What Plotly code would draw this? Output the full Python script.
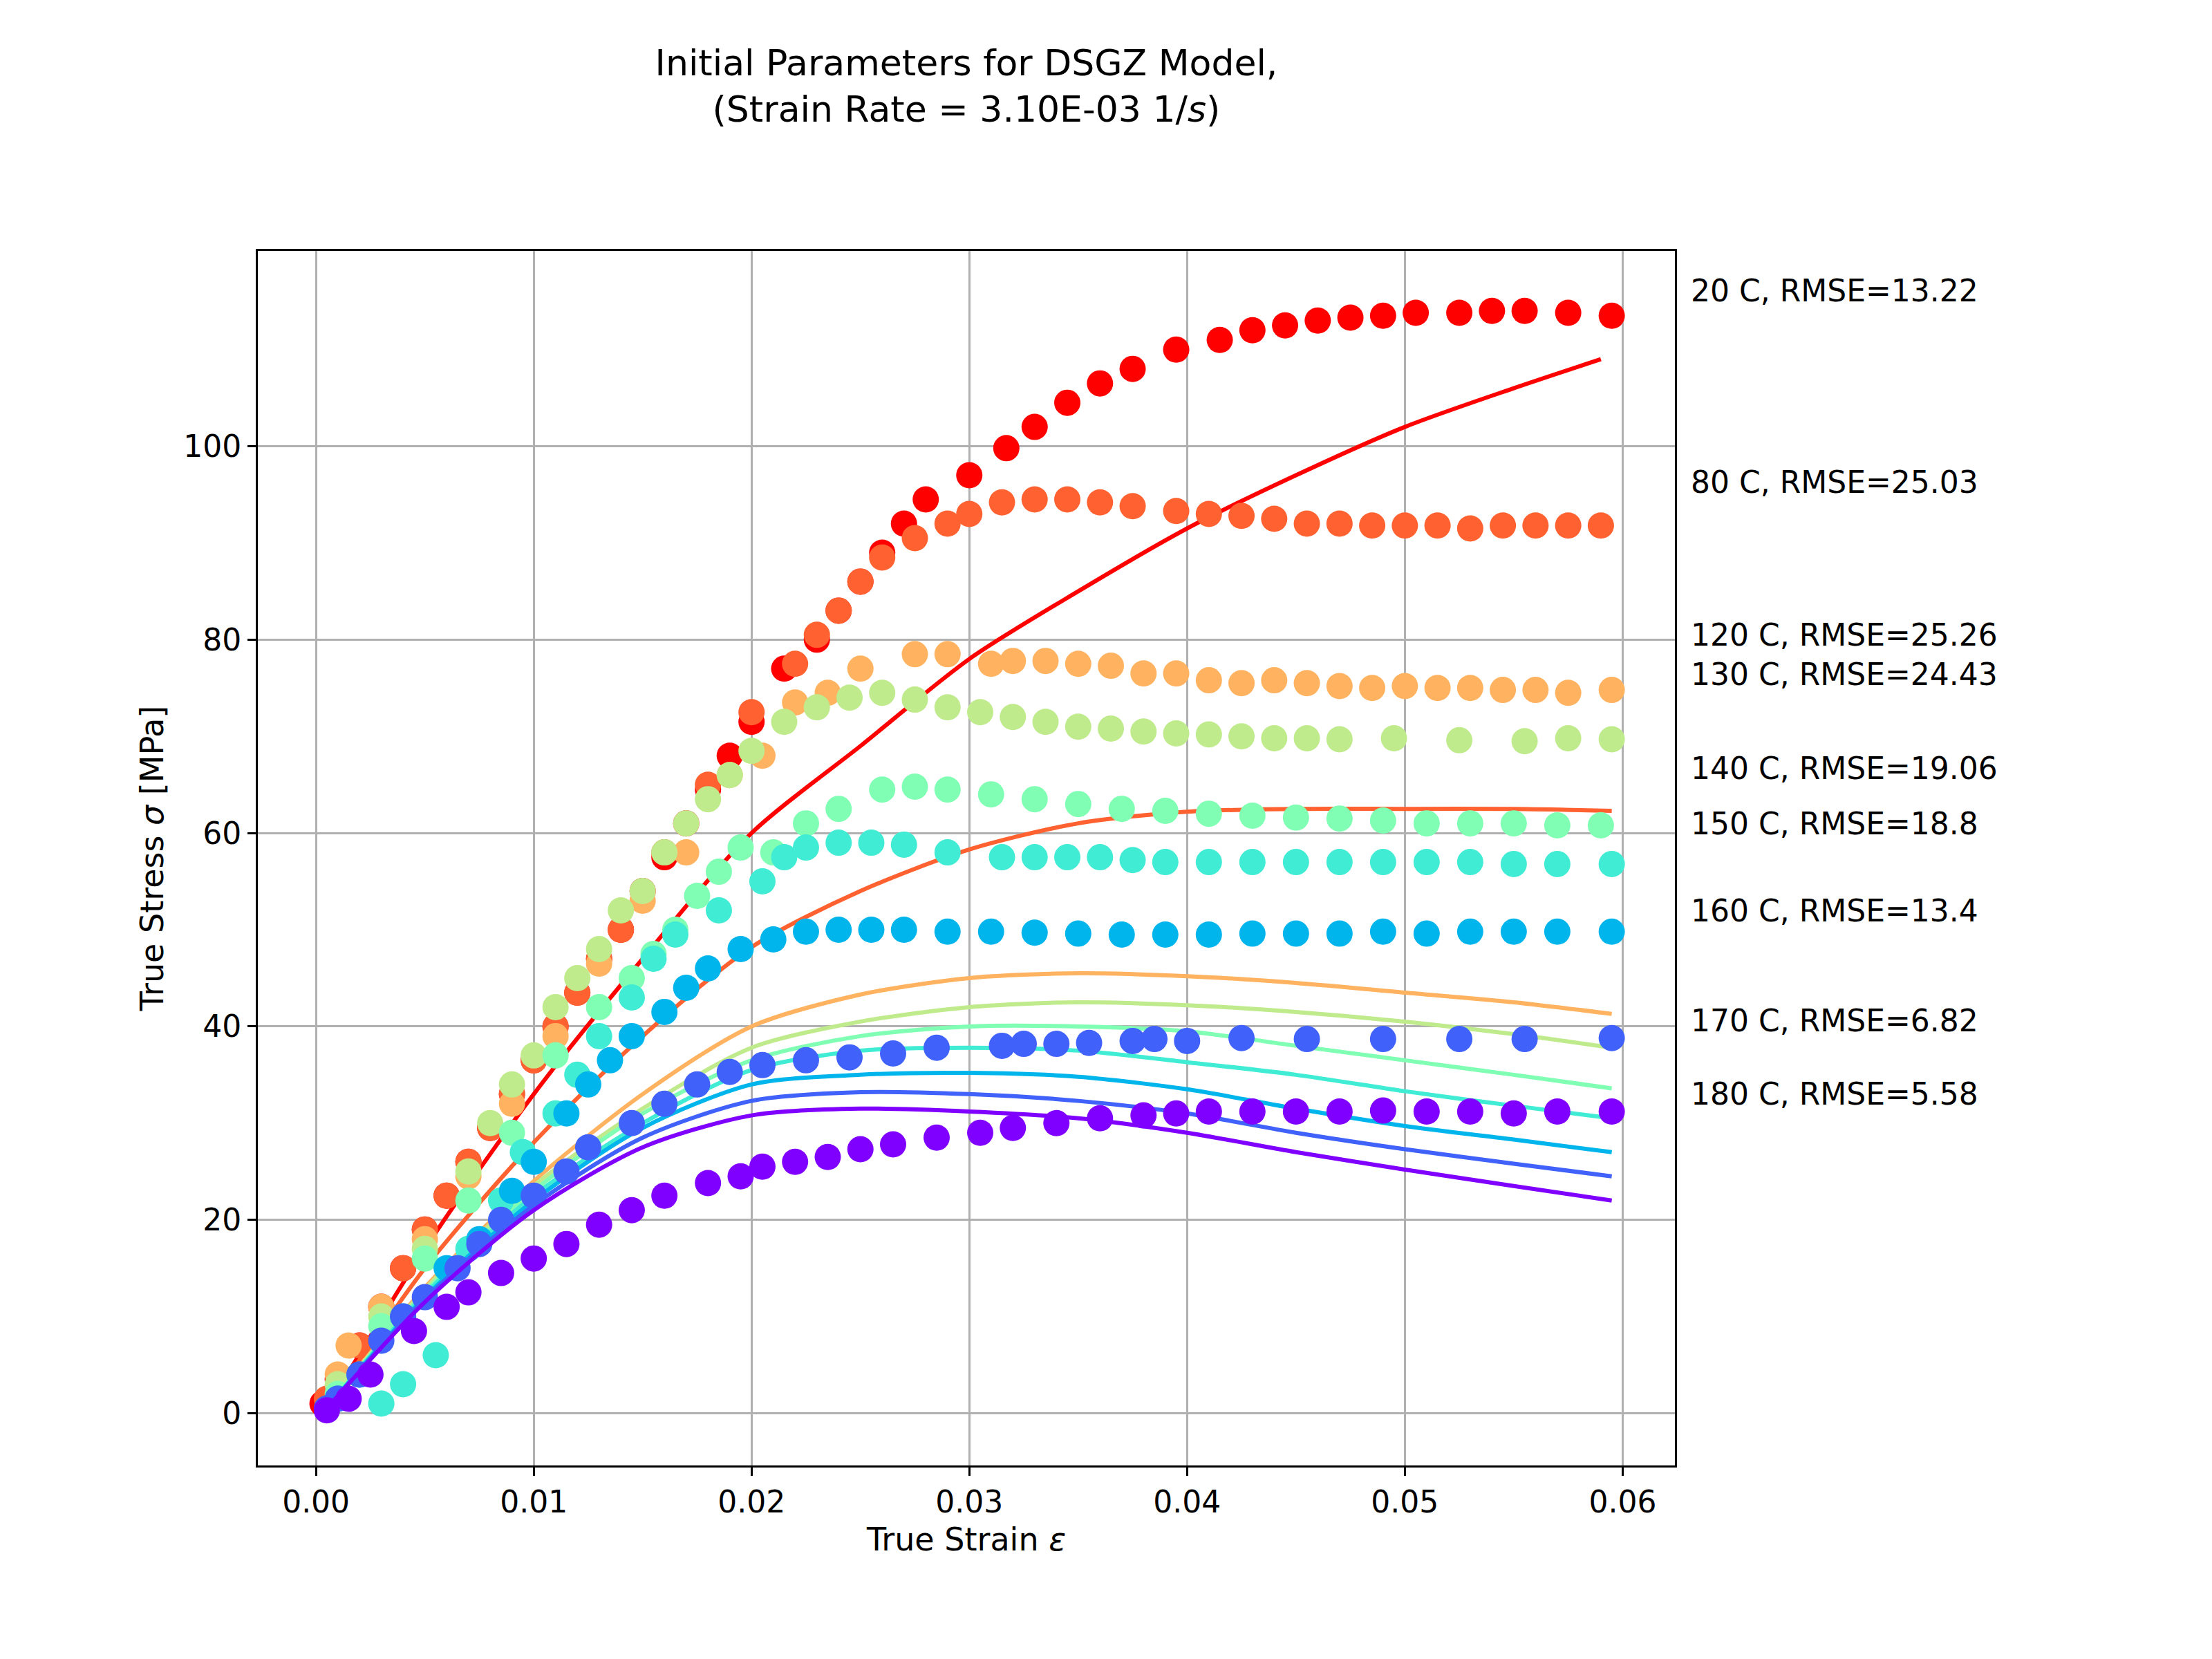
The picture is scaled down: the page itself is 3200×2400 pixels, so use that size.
import plotly.graph_objects as go

temps = ["20 C", "80 C", "120 C", "130 C", "140 C", "150 C", "160 C", "170 C", "180 C"]
rmse = ["13.22", "25.03", "25.26", "24.43", "19.06", "18.8", "13.4", "6.82", "5.58"]
colors = ["#ff0000", "#ff6230", "#ffb360", "#c0eb8d", "#80ffb4", "#40ecd4", "#00b5eb", "#4062fa", "#8000ff"]
label_y = [116.1, 96.3, 80.5, 76.4, 66.7, 61.0, 52.0, 40.6, 33.0]

# experimental points
exp_x = [
    [0.0003, 0.001, 0.002, 0.003, 0.004, 0.005, 0.006, 0.007, 0.008, 0.009, 0.010, 0.011, 0.012, 0.013, 0.014, 0.015,
     0.016, 0.017, 0.018, 0.019, 0.020, 0.0215, 0.023, 0.024, 0.025, 0.026, 0.027, 0.028, 0.030, 0.0317, 0.033, 0.0345,
     0.036, 0.0375, 0.0395, 0.0415, 0.043, 0.0445, 0.046, 0.0475, 0.049, 0.0505, 0.0525, 0.054, 0.0555, 0.0575, 0.0595],
    [0.0005, 0.002, 0.003, 0.004, 0.005, 0.006, 0.007, 0.008, 0.009, 0.010, 0.011, 0.012, 0.013, 0.014, 0.016, 0.018,
     0.020, 0.022, 0.023, 0.024, 0.025, 0.026, 0.0275, 0.029, 0.030, 0.0315, 0.033, 0.0345, 0.036, 0.0375, 0.0395, 0.041,
     0.0425, 0.044, 0.0455, 0.047, 0.0485, 0.050, 0.0515, 0.053, 0.0545, 0.056, 0.0575, 0.059],
    [0.001, 0.0015, 0.003, 0.005, 0.007, 0.009, 0.011, 0.013, 0.015, 0.017, 0.019, 0.0205, 0.022, 0.0235, 0.025, 0.0275,
     0.029, 0.031, 0.032, 0.0335, 0.035, 0.0365, 0.038, 0.0395, 0.041, 0.0425, 0.044, 0.0455, 0.047, 0.0485, 0.050,
     0.0515, 0.053, 0.0545, 0.056, 0.0575, 0.0595],
    [0.001, 0.003, 0.005, 0.007, 0.008, 0.009, 0.010, 0.011, 0.012, 0.013, 0.014, 0.015, 0.016, 0.017, 0.018, 0.019,
     0.020, 0.0215, 0.023, 0.0245, 0.026, 0.0275, 0.029, 0.0305, 0.032, 0.0335, 0.035, 0.0365, 0.038, 0.0395, 0.041,
     0.0425, 0.044, 0.0455, 0.047, 0.0495, 0.0525, 0.0555, 0.0575, 0.0595],
    [0.001, 0.003, 0.005, 0.007, 0.009, 0.011, 0.013, 0.0145, 0.0155, 0.0165, 0.0175, 0.0185, 0.0195, 0.021, 0.0225,
     0.024, 0.026, 0.0275, 0.029, 0.031, 0.033, 0.035, 0.037, 0.039, 0.041, 0.043, 0.045, 0.047, 0.049, 0.051, 0.053,
     0.055, 0.057, 0.059],
    [0.003, 0.004, 0.0055, 0.007, 0.0085, 0.0095, 0.011, 0.012, 0.013, 0.0145, 0.0155, 0.0165, 0.0185, 0.0205, 0.0215,
     0.0225, 0.024, 0.0255, 0.027, 0.029, 0.0315, 0.033, 0.0345, 0.036, 0.0375, 0.039, 0.041, 0.043, 0.045, 0.047,
     0.049, 0.051, 0.053, 0.055, 0.057, 0.0595],
    [0.001, 0.002, 0.004, 0.006, 0.0075, 0.009, 0.010, 0.0115, 0.0125, 0.0135, 0.0145, 0.016, 0.017, 0.018, 0.0195,
     0.021, 0.0225, 0.024, 0.0255, 0.027, 0.029, 0.031, 0.033, 0.035, 0.037, 0.039, 0.041, 0.043, 0.045, 0.047, 0.049,
     0.051, 0.053, 0.055, 0.057, 0.0595],
    [0.0005, 0.001, 0.002, 0.003, 0.004, 0.005, 0.0065, 0.0075, 0.0085, 0.010, 0.0115, 0.0125, 0.0145, 0.016, 0.0175,
     0.019, 0.0205, 0.0225, 0.0245, 0.0265, 0.0285, 0.0315, 0.0325, 0.034, 0.0355, 0.0375, 0.0385, 0.040, 0.0425,
     0.0455, 0.049, 0.0525, 0.0555, 0.0595],
    [0.0005, 0.0015, 0.0025, 0.0045, 0.006, 0.007, 0.0085, 0.010, 0.0115, 0.013, 0.0145, 0.016, 0.018, 0.0195, 0.0205,
     0.022, 0.0235, 0.025, 0.0265, 0.0285, 0.0305, 0.032, 0.034, 0.036, 0.038, 0.0395, 0.041, 0.043, 0.045, 0.047,
     0.049, 0.051, 0.053, 0.055, 0.057, 0.0595],
]
exp_y = [
    [1, 3.5, 7, 11, 15, 19, 22.5, 26, 29.5, 33, 36.5, 40, 43.5, 47, 50, 54, 57.5, 61, 64.5, 68, 71.5, 77, 80, 83, 86,
     89, 92, 94.5, 97, 99.8, 102, 104.5, 106.5, 108, 110, 111, 112, 112.5, 113, 113.3, 113.5, 113.8, 113.8, 114, 114,
     113.8, 113.5],
    [1.5, 7, 11, 15, 19, 22.5, 26, 29.5, 33, 36.5, 40, 43.5, 47, 50, 58, 65, 72.5, 77.5, 80.5, 83, 86, 88.5, 90.5, 92,
     93, 94.2, 94.5, 94.5, 94.2, 93.8, 93.3, 93, 92.8, 92.5, 92, 92, 91.8, 91.8, 91.8, 91.5, 91.8, 91.8, 91.8, 91.8],
    [4, 7, 11, 18, 24.5, 32, 39, 46.5, 53, 58, 66, 68, 73.5, 74.5, 77, 78.5, 78.5, 77.5, 77.8, 77.8, 77.5, 77.3, 76.5,
     76.5, 75.8, 75.5, 75.8, 75.5, 75.2, 75, 75.2, 75, 75, 74.8, 74.8, 74.5, 74.8],
    [3, 10, 17, 25, 30, 34, 37, 42, 45, 48, 52, 54, 58, 61, 63.5, 66, 68.5, 71.5, 73, 74, 74.5, 73.8, 73, 72.5, 72,
     71.5, 71, 70.8, 70.5, 70.3, 70.2, 70, 69.8, 69.8, 69.7, 69.8, 69.6, 69.5, 69.8, 69.7],
    [2, 9, 16, 22, 29, 37, 42, 45, 47.5, 50, 53.5, 56, 58.5, 58, 61, 62.5, 64.5, 64.8, 64.5, 64, 63.5, 63, 62.5, 62.3,
     62, 61.8, 61.6, 61.5, 61.3, 61, 61, 61, 60.8, 60.8],
    [1, 3, 6, 17, 22, 27, 31, 35, 39, 43, 47, 49.5, 52, 55, 57.5, 58.5, 59, 59, 58.8, 58, 57.5, 57.5, 57.5, 57.5, 57.2,
     57, 57, 57, 57, 57, 57, 57, 57, 56.8, 56.8, 56.8],
    [1.5, 4, 10, 15, 18, 23, 26, 31, 34, 36.5, 39, 41.5, 44, 46, 48, 49, 49.8, 50, 50, 50, 49.8, 49.8, 49.7, 49.6, 49.5,
     49.5, 49.5, 49.6, 49.6, 49.6, 49.8, 49.6, 49.8, 49.8, 49.8, 49.8],
    [0.5, 1.5, 4, 7.5, 10, 12, 15, 17.5, 20, 22.5, 25, 27.5, 30, 32, 34, 35.3, 36, 36.5, 36.8, 37.2, 37.8, 38, 38.2,
     38.2, 38.3, 38.5, 38.7, 38.5, 38.8, 38.7, 38.7, 38.7, 38.7, 38.8],
    [0.3, 1.5, 4, 8.5, 11, 12.5, 14.5, 16, 17.5, 19.5, 21, 22.5, 23.8, 24.5, 25.5, 26, 26.5, 27.3, 27.8, 28.5, 29, 29.5,
     30, 30.5, 30.8, 31, 31.2, 31.2, 31.2, 31.2, 31.3, 31.2, 31.2, 31, 31.2, 31.2],
]

# model curves
model_x = [0.0005, 0.005, 0.01, 0.015, 0.02, 0.025, 0.03, 0.035, 0.04, 0.045, 0.05, 0.055, 0.0595]
model_y = [
    [0.5, 17, 33, 47, 60, 69, 78, 85, 91.5, 97, 102, 106, 109],
    [0.5, 15, 28, 39, 48.2, 54, 58.3, 61, 62.2, 62.5, 62.5, 62.5, 62.3],
    [0.5, 13, 24, 33, 40, 43.3, 45, 45.5, 45.2, 44.5, 43.5, 42.5, 41.3],
    [0.5, 12.8, 23.5, 31.5, 37.8, 40.5, 42, 42.5, 42.2, 41.5, 40.5, 39.2, 37.8],
    [0.5, 12.5, 23, 31, 36.5, 39, 40, 40, 39.5, 38, 36.5, 35, 33.6],
    [0.5, 12.3, 22.5, 30, 35.5, 37.5, 37.8, 37.5, 36.3, 35, 33.3, 31.8, 30.5],
    [0.5, 12, 22, 29.5, 34, 35, 35.2, 34.8, 33.5, 31.5, 29.7, 28.3, 27],
    [0.5, 11.8, 21.5, 28.5, 32.3, 33.2, 33, 32.3, 31, 29, 27.3, 25.8, 24.5],
    [0.5, 11.5, 21, 27.5, 30.8, 31.5, 31.2, 30.5, 29, 27, 25.2, 23.5, 22],
]
model_x_red = model_x[:-1] + [0.059]

fig = go.Figure()
for i, t in enumerate(temps):
    fig.add_trace(go.Scatter(x=exp_x[i], y=exp_y[i], mode="markers",
                             marker=dict(color=colors[i], size=38, line=dict(width=0)), showlegend=False))
    mx = model_x_red if i == 0 else model_x
    fig.add_trace(go.Scatter(x=mx, y=model_y[i], mode="lines",
                             line=dict(color=colors[i], width=6, shape="spline", smoothing=0.8),
                             showlegend=False))
    fig.add_annotation(x=1.01, xref="paper", y=label_y[i], yref="y", text=f"{t}, RMSE={rmse[i]}",
                       showarrow=False, xanchor="left", font=dict(size=44, color="black"))

axis_common = dict(showline=True, linecolor="black", linewidth=3, mirror=True, ticks="outside",
                   ticklen=12, tickwidth=3, tickcolor="black", showgrid=True, gridcolor="#b0b0b0",
                   gridwidth=3, zeroline=False, tickfont=dict(size=44, color="black"))

fig.update_layout(
    width=3200, height=2400,
    paper_bgcolor="white", plot_bgcolor="white",
    font=dict(family="DejaVu Sans", color="black"),
    margin=dict(l=365, r=785, t=355, b=288),
    title=dict(text="Initial Parameters for DSGZ Model,<br>(Strain Rate = 3.10E-03 1/<i>s</i>)",
               x=0.5, xanchor="center", xref="paper", y=0.958, yanchor="top", font=dict(size=52)),
    xaxis=dict(range=[-0.00267, 0.0624], tickvals=[0, 0.01, 0.02, 0.03, 0.04, 0.05, 0.06],
               tickformat=".2f", title=dict(text="True Strain <i>ε</i>", font=dict(size=46)), **axis_common),
    yaxis=dict(range=[-5.4, 120.2], tickvals=[0, 20, 40, 60, 80, 100],
               title=dict(text="True Stress <i>σ</i> [MPa]", font=dict(size=46)), **axis_common),
)

fig.write_html("out.html")
